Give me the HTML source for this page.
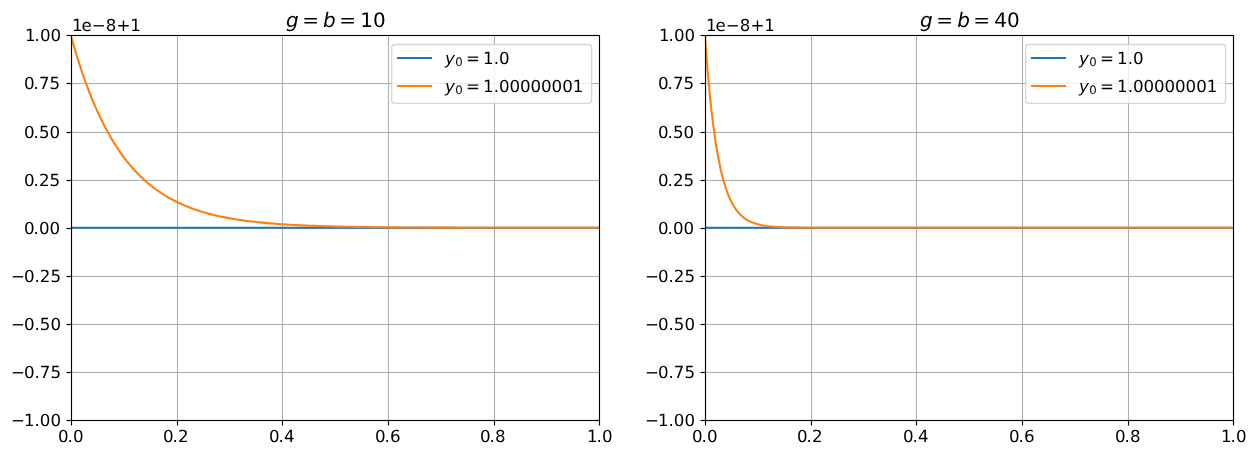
<!DOCTYPE html>
<html lang="en"><head><meta charset="utf-8"><title>Stability of solutions: g=b=10 vs g=b=40</title>
<style>
html,body{margin:0;padding:0;background:#fff;overflow:hidden}
body{width:1256px;height:455px}
svg text{white-space:pre;text-rendering:geometricPrecision}
</style></head><body>
<svg width="1256" height="455" viewBox="0 0 1256 455" style="display:block">
<rect width="1256" height="455" fill="#fff"/>
<defs>
<clipPath id="c0"><rect x="70.82" y="35.3" width="528.409" height="385"/></clipPath>
<clipPath id="c1"><rect x="704.911" y="35.3" width="528.409" height="385"/></clipPath>
</defs>
<g class="axes" id="ax0">
<g stroke="#b0b0b0" stroke-width="1.111" fill="none" clip-path="url(#c0)">
<path d="M71.5 35.3V420.3M177.5 35.3V420.3M282.5 35.3V420.3M388.5 35.3V420.3M494.5 35.3V420.3M599.5 35.3V420.3M70.82 35.5H599.229M70.82 83.5H599.229M70.82 132.5H599.229M70.82 180.5H599.229M70.82 228.5H599.229M70.82 276.5H599.229M70.82 324.5H599.229M70.82 372.5H599.229M70.82 420.5H599.229"/>
<path d="M70.82 83.5H599.229M70.82 132.5H599.229M70.82 180.5H599.229M70.82 228.5H599.229M70.82 276.5H599.229M70.82 324.5H599.229M70.82 372.5H599.229" stroke-width="3" stroke-opacity="0.065"/></g>
<path d="M71.5 420.5V425.5M177.5 420.5V425.5M282.5 420.5V425.5M388.5 420.5V425.5M494.5 420.5V425.5M599.5 420.5V425.5M71.5 35.5H66.5M71.5 83.5H66.5M71.5 132.5H66.5M71.5 180.5H66.5M71.5 228.5H66.5M71.5 276.5H66.5M71.5 324.5H66.5M71.5 372.5H66.5M71.5 420.5H66.5" stroke="#000" stroke-width="1.111" fill="none"/>
<path d="M71.5 35.5H66.5M71.5 83.5H66.5M71.5 132.5H66.5M71.5 180.5H66.5M71.5 228.5H66.5M71.5 276.5H66.5M71.5 324.5H66.5M71.5 372.5H66.5M71.5 420.5H66.5" stroke="#000" stroke-width="3" stroke-opacity="0.065" fill="none"/>
<g clip-path="url(#c0)" fill="none" stroke-width="2.083" stroke-linecap="square" stroke-linejoin="round">
<path d="M70.82 227.8H599.229" stroke="#1f77b4"/>
<path d="M70.82 35.3 L73.475 44.734 L76.131 53.706 L78.786 62.239 L81.441 70.353 L84.097 78.069 L86.752 85.407 L89.407 92.386 L92.063 99.023 L94.718 105.334 L97.373 111.336 L100.029 117.044 L102.684 122.472 L105.339 127.634 L107.995 132.543 L110.65 137.211 L113.305 141.651 L115.96 145.873 L118.616 149.889 L121.271 153.707 L123.926 157.338 L126.582 160.791 L129.237 164.076 L131.892 167.199 L134.548 170.169 L137.203 172.993 L139.858 175.679 L142.514 178.234 L145.169 180.663 L147.824 182.973 L150.48 185.17 L153.135 187.259 L155.79 189.246 L158.446 191.136 L161.101 192.933 L163.756 194.641 L166.412 196.266 L169.067 197.812 L171.722 199.282 L174.378 200.679 L177.033 202.008 L179.688 203.273 L182.344 204.475 L184.999 205.618 L187.654 206.705 L190.309 207.739 L192.965 208.722 L195.62 209.657 L198.275 210.546 L200.931 211.392 L203.586 212.196 L206.241 212.961 L208.897 213.688 L211.552 214.38 L214.207 215.037 L216.863 215.663 L219.518 216.258 L222.173 216.823 L224.829 217.361 L227.484 217.873 L230.139 218.359 L232.795 218.822 L235.45 219.262 L238.105 219.681 L240.761 220.078 L243.416 220.457 L246.071 220.817 L248.727 221.159 L251.382 221.484 L254.037 221.794 L256.693 222.088 L259.348 222.368 L262.003 222.634 L264.658 222.888 L267.314 223.128 L269.969 223.357 L272.624 223.575 L275.28 223.782 L277.935 223.979 L280.59 224.166 L283.246 224.344 L285.901 224.514 L288.556 224.675 L291.212 224.828 L293.867 224.974 L296.522 225.112 L299.178 225.244 L301.833 225.369 L304.488 225.488 L307.144 225.602 L309.799 225.709 L312.454 225.812 L315.11 225.909 L317.765 226.002 L320.42 226.09 L323.076 226.174 L325.731 226.254 L328.386 226.329 L331.042 226.401 L333.697 226.47 L336.352 226.535 L339.007 226.597 L341.663 226.656 L344.318 226.712 L346.973 226.765 L349.629 226.816 L352.284 226.864 L354.939 226.91 L357.595 226.954 L360.25 226.995 L362.905 227.035 L365.561 227.072 L368.216 227.108 L370.871 227.142 L373.527 227.174 L376.182 227.205 L378.837 227.234 L381.493 227.262 L384.148 227.288 L386.803 227.313 L389.459 227.337 L392.114 227.36 L394.769 227.381 L397.425 227.402 L400.08 227.421 L402.735 227.44 L405.391 227.458 L408.046 227.474 L410.701 227.49 L413.356 227.505 L416.012 227.52 L418.667 227.534 L421.322 227.547 L423.978 227.559 L426.633 227.571 L429.288 227.582 L431.944 227.593 L434.599 227.603 L437.254 227.613 L439.91 227.622 L442.565 227.631 L445.22 227.639 L447.876 227.647 L450.531 227.654 L453.186 227.661 L455.842 227.668 L458.497 227.675 L461.152 227.681 L463.808 227.687 L466.463 227.692 L469.118 227.697 L471.774 227.702 L474.429 227.707 L477.084 227.712 L479.74 227.716 L482.395 227.72 L485.05 227.724 L487.705 227.728 L490.361 227.731 L493.016 227.735 L495.671 227.738 L498.327 227.741 L500.982 227.744 L503.637 227.747 L506.293 227.749 L508.948 227.752 L511.603 227.754 L514.259 227.756 L516.914 227.759 L519.569 227.761 L522.225 227.762 L524.88 227.764 L527.535 227.766 L530.191 227.768 L532.846 227.769 L535.501 227.771 L538.157 227.772 L540.812 227.774 L543.467 227.775 L546.123 227.776 L548.778 227.777 L551.433 227.778 L554.089 227.779 L556.744 227.78 L559.399 227.781 L562.054 227.782 L564.71 227.783 L567.365 227.784 L570.02 227.785 L572.676 227.786 L575.331 227.786 L577.986 227.787 L580.642 227.788 L583.297 227.788 L585.952 227.789 L588.608 227.789 L591.263 227.79 L593.918 227.79 L596.574 227.791 L599.229 227.791" stroke="#ff7f0e"/>
</g>
<path d="M71.5 420.5V35.5M599.5 420.5V35.5M71.5 420.5H599.5M71.5 35.5H599.5" stroke="#000" stroke-width="1.111" stroke-linecap="square" fill="none"/>
<path d="M71.0 420.5H600.0M71.0 35.5H600.0" stroke="#000" stroke-width="3" stroke-opacity="0.065" fill="none"/>
<g font-family="'DejaVu Sans', 'Liberation Sans', sans-serif" font-size="16.667px" fill="#000">
<text x="58" y="442" dx="0 -1">0.0</text>
<text x="163" y="442" dx="0 -1">0.2</text>
<text x="269" y="442" dx="0 -1">0.4</text>
<text x="375" y="442" dx="0 -1">0.6</text>
<text x="480" y="442" dx="0 -1">0.8</text>
<text x="587" y="442" dx="0 -1">1.0</text>
<text x="25" y="41" dx="0 -1">1.00</text>
<text x="24" y="89" dx="0 -1">0.75</text>
<text x="24" y="138" dx="0 -1">0.50</text>
<text x="24" y="186" dx="0 -1">0.25</text>
<text x="24" y="234" dx="0 -1">0.00</text>
<text x="11" y="282" dx="0 -1">−0.25</text>
<text x="11" y="330" dx="0 -1">−0.50</text>
<text x="11" y="378" dx="0 -1">−0.75</text>
<text x="11" y="426" dx="0 -1">−1.00</text>
<text x="72" y="31" dx="0 -1">1e−8+1</text>
</g>
<text font-family="'DejaVu Sans', 'Liberation Sans', sans-serif" font-size="20px" y="27"><tspan x="285.92" font-style="oblique">g</tspan><tspan x="302.282">=</tspan><tspan x="323.101" font-style="oblique">b</tspan><tspan x="339.164">=</tspan><tspan x="360.282">10</tspan></text>
<rect x="391.65" y="44.5" width="199.95" height="58.9" rx="3.33" ry="3.33" fill="#fff" fill-opacity="0.8" stroke="#ccc" stroke-opacity="0.8" stroke-width="1.389"/>
<path d="M398 58H431" stroke="#1f77b4" stroke-width="2.083" stroke-linecap="square" fill="none"/>
<text font-family="'DejaVu Sans', 'Liberation Sans', sans-serif" font-size="16.667px" y="64"><tspan x="444.9" font-style="oblique">y</tspan><tspan x="455.263" dy="2" font-size="11.667px">0</tspan><tspan x="466.089" dy="-2">=</tspan><tspan x="483.101" letter-spacing="-0.05">1.0</tspan></text>
<path d="M398 86H431" stroke="#ff7f0e" stroke-width="2.083" stroke-linecap="square" fill="none"/>
<text font-family="'DejaVu Sans', 'Liberation Sans', sans-serif" font-size="16.667px" y="92"><tspan x="444.9" font-style="oblique">y</tspan><tspan x="455.263" dy="2" font-size="11.667px">0</tspan><tspan x="466.089" dy="-2">=</tspan><tspan x="483.101" letter-spacing="-0.05">1.00000001</tspan></text>
</g>
<g class="axes" id="ax1">
<g stroke="#b0b0b0" stroke-width="1.111" fill="none" clip-path="url(#c1)">
<path d="M705.5 35.3V420.3M811.5 35.3V420.3M916.5 35.3V420.3M1022.5 35.3V420.3M1128.5 35.3V420.3M1233.5 35.3V420.3M704.911 35.5H1233.32M704.911 83.5H1233.32M704.911 132.5H1233.32M704.911 180.5H1233.32M704.911 228.5H1233.32M704.911 276.5H1233.32M704.911 324.5H1233.32M704.911 372.5H1233.32M704.911 420.5H1233.32"/>
<path d="M704.911 83.5H1233.32M704.911 132.5H1233.32M704.911 180.5H1233.32M704.911 228.5H1233.32M704.911 276.5H1233.32M704.911 324.5H1233.32M704.911 372.5H1233.32" stroke-width="3" stroke-opacity="0.065"/></g>
<path d="M705.5 420.5V425.5M811.5 420.5V425.5M916.5 420.5V425.5M1022.5 420.5V425.5M1128.5 420.5V425.5M1233.5 420.5V425.5M705.5 35.5H700.5M705.5 83.5H700.5M705.5 132.5H700.5M705.5 180.5H700.5M705.5 228.5H700.5M705.5 276.5H700.5M705.5 324.5H700.5M705.5 372.5H700.5M705.5 420.5H700.5" stroke="#000" stroke-width="1.111" fill="none"/>
<path d="M705.5 35.5H700.5M705.5 83.5H700.5M705.5 132.5H700.5M705.5 180.5H700.5M705.5 228.5H700.5M705.5 276.5H700.5M705.5 324.5H700.5M705.5 372.5H700.5M705.5 420.5H700.5" stroke="#000" stroke-width="3" stroke-opacity="0.065" fill="none"/>
<g clip-path="url(#c1)" fill="none" stroke-width="2.083" stroke-linecap="square" stroke-linejoin="round">
<path d="M704.911 227.8H1233.32" stroke="#1f77b4"/>
<path d="M704.911 35.3 L707.566 70.353 L710.222 99.023 L712.877 122.472 L715.532 141.651 L718.188 157.338 L720.843 170.169 L723.498 180.663 L726.154 189.246 L728.809 196.266 L731.464 202.008 L734.12 206.705 L736.775 210.546 L739.43 213.688 L742.086 216.258 L744.741 218.359 L747.396 220.078 L750.051 221.484 L752.707 222.634 L755.362 223.575 L758.017 224.344 L760.673 224.974 L763.328 225.488 L765.983 225.909 L768.639 226.254 L771.294 226.535 L773.949 226.765 L776.605 226.954 L779.26 227.108 L781.915 227.234 L784.571 227.337 L787.226 227.421 L789.881 227.49 L792.537 227.547 L795.192 227.593 L797.847 227.631 L800.503 227.661 L803.158 227.687 L805.813 227.707 L808.469 227.724 L811.124 227.738 L813.779 227.749 L816.435 227.759 L819.09 227.766 L821.745 227.772 L824.4 227.777 L827.056 227.781 L829.711 227.785 L832.366 227.788 L835.022 227.79 L837.677 227.792 L840.332 227.793 L842.988 227.794 L845.643 227.795 L848.298 227.796 L850.954 227.797 L853.609 227.798 L856.264 227.798 L858.92 227.798 L861.575 227.799 L864.23 227.799 L866.886 227.799 L869.541 227.799 L872.196 227.799 L874.852 227.8 L877.507 227.8 L880.162 227.8 L882.818 227.8 L885.473 227.8 L888.128 227.8 L890.784 227.8 L893.439 227.8 L896.094 227.8 L898.749 227.8 L901.405 227.8 L904.06 227.8 L906.715 227.8 L909.371 227.8 L912.026 227.8 L914.681 227.8 L917.337 227.8 L919.992 227.8 L922.647 227.8 L925.303 227.8 L927.958 227.8 L930.613 227.8 L933.269 227.8 L935.924 227.8 L938.579 227.8 L941.235 227.8 L943.89 227.8 L946.545 227.8 L949.201 227.8 L951.856 227.8 L954.511 227.8 L957.167 227.8 L959.822 227.8 L962.477 227.8 L965.133 227.8 L967.788 227.8 L970.443 227.8 L973.098 227.8 L975.754 227.8 L978.409 227.8 L981.064 227.8 L983.72 227.8 L986.375 227.8 L989.03 227.8 L991.686 227.8 L994.341 227.8 L996.996 227.8 L999.652 227.8 L1002.307 227.8 L1004.962 227.8 L1007.618 227.8 L1010.273 227.8 L1012.928 227.8 L1015.584 227.8 L1018.239 227.8 L1020.894 227.8 L1023.55 227.8 L1026.205 227.8 L1028.86 227.8 L1031.516 227.8 L1034.171 227.8 L1036.826 227.8 L1039.482 227.8 L1042.137 227.8 L1044.792 227.8 L1047.447 227.8 L1050.103 227.8 L1052.758 227.8 L1055.413 227.8 L1058.069 227.8 L1060.724 227.8 L1063.379 227.8 L1066.035 227.8 L1068.69 227.8 L1071.345 227.8 L1074.001 227.8 L1076.656 227.8 L1079.311 227.8 L1081.967 227.8 L1084.622 227.8 L1087.277 227.8 L1089.933 227.8 L1092.588 227.8 L1095.243 227.8 L1097.899 227.8 L1100.554 227.8 L1103.209 227.8 L1105.865 227.8 L1108.52 227.8 L1111.175 227.8 L1113.831 227.8 L1116.486 227.8 L1119.141 227.8 L1121.796 227.8 L1124.452 227.8 L1127.107 227.8 L1129.762 227.8 L1132.418 227.8 L1135.073 227.8 L1137.728 227.8 L1140.384 227.8 L1143.039 227.8 L1145.694 227.8 L1148.35 227.8 L1151.005 227.8 L1153.66 227.8 L1156.316 227.8 L1158.971 227.8 L1161.626 227.8 L1164.282 227.8 L1166.937 227.8 L1169.592 227.8 L1172.248 227.8 L1174.903 227.8 L1177.558 227.8 L1180.214 227.8 L1182.869 227.8 L1185.524 227.8 L1188.18 227.8 L1190.835 227.8 L1193.49 227.8 L1196.145 227.8 L1198.801 227.8 L1201.456 227.8 L1204.111 227.8 L1206.767 227.8 L1209.422 227.8 L1212.077 227.8 L1214.733 227.8 L1217.388 227.8 L1220.043 227.8 L1222.699 227.8 L1225.354 227.8 L1228.009 227.8 L1230.665 227.8 L1233.32 227.8" stroke="#ff7f0e"/>
</g>
<path d="M705.5 420.5V35.5M1233.5 420.5V35.5M705.5 420.5H1233.5M705.5 35.5H1233.5" stroke="#000" stroke-width="1.111" stroke-linecap="square" fill="none"/>
<path d="M705.0 420.5H1234.0M705.0 35.5H1234.0" stroke="#000" stroke-width="3" stroke-opacity="0.065" fill="none"/>
<g font-family="'DejaVu Sans', 'Liberation Sans', sans-serif" font-size="16.667px" fill="#000">
<text x="692" y="442" dx="0 -1">0.0</text>
<text x="797" y="442" dx="0 -1">0.2</text>
<text x="903" y="442" dx="0 -1">0.4</text>
<text x="1009" y="442" dx="0 -1">0.6</text>
<text x="1115" y="442" dx="0 -1">0.8</text>
<text x="1221" y="442" dx="0 -1">1.0</text>
<text x="659" y="41" dx="0 -1">1.00</text>
<text x="658" y="89" dx="0 -1">0.75</text>
<text x="658" y="138" dx="0 -1">0.50</text>
<text x="658" y="186" dx="0 -1">0.25</text>
<text x="658" y="234" dx="0 -1">0.00</text>
<text x="645" y="282" dx="0 -1">−0.25</text>
<text x="645" y="330" dx="0 -1">−0.50</text>
<text x="645" y="378" dx="0 -1">−0.75</text>
<text x="645" y="426" dx="0 -1">−1.00</text>
<text x="706" y="31" dx="0 -1">1e−8+1</text>
</g>
<text font-family="'DejaVu Sans', 'Liberation Sans', sans-serif" font-size="20px" y="27"><tspan x="920.011" font-style="oblique">g</tspan><tspan x="936.374">=</tspan><tspan x="957.192" font-style="oblique">b</tspan><tspan x="973.255">=</tspan><tspan x="994.374">40</tspan></text>
<rect x="1025.65" y="44.5" width="199.95" height="58.9" rx="3.33" ry="3.33" fill="#fff" fill-opacity="0.8" stroke="#ccc" stroke-opacity="0.8" stroke-width="1.389"/>
<path d="M1032 58H1065" stroke="#1f77b4" stroke-width="2.083" stroke-linecap="square" fill="none"/>
<text font-family="'DejaVu Sans', 'Liberation Sans', sans-serif" font-size="16.667px" y="64"><tspan x="1078.9" font-style="oblique">y</tspan><tspan x="1089.263" dy="2" font-size="11.667px">0</tspan><tspan x="1100.089" dy="-2">=</tspan><tspan x="1117.101" letter-spacing="-0.05">1.0</tspan></text>
<path d="M1032 86H1065" stroke="#ff7f0e" stroke-width="2.083" stroke-linecap="square" fill="none"/>
<text font-family="'DejaVu Sans', 'Liberation Sans', sans-serif" font-size="16.667px" y="92"><tspan x="1078.9" font-style="oblique">y</tspan><tspan x="1089.263" dy="2" font-size="11.667px">0</tspan><tspan x="1100.089" dy="-2">=</tspan><tspan x="1117.101" letter-spacing="-0.05">1.00000001</tspan></text>
</g>
</svg>
</body></html>
